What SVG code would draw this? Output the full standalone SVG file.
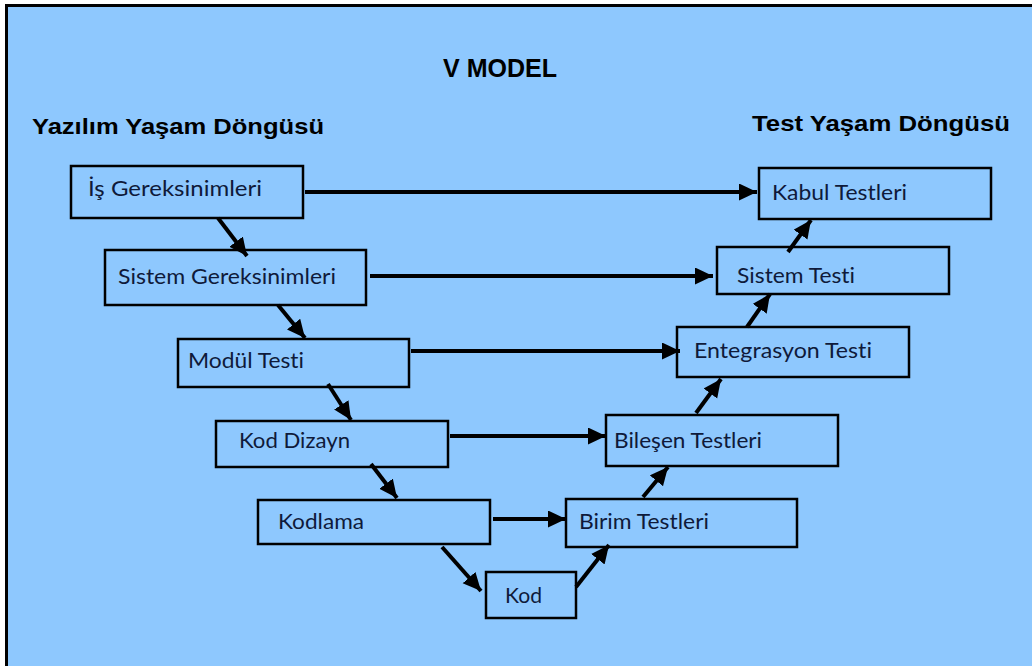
<svg xmlns="http://www.w3.org/2000/svg" width="1032" height="666" viewBox="0 0 1032 666">
<style>
.box{fill:#8EC8FE;stroke:#000;stroke-width:2.5}
.lbl{font-family:Lato,"Open Sans",sans-serif;font-size:22px;fill:#0F1A3A;font-variant-ligatures:none;font-feature-settings:"liga" 0}
.ttl{font-family:"Liberation Sans",Arial,sans-serif;font-weight:bold;fill:#000}
.con line{stroke:#000;stroke-width:4;marker-end:url(#ah)}
</style>
<defs>
<marker id="ah" markerUnits="userSpaceOnUse" markerWidth="20" markerHeight="18" refX="18" refY="8.5" orient="auto">
<path d="M0,0 L18,8.5 L0,17 z" fill="#000"/>
</marker>
</defs>
<rect x="0" y="0" width="1032" height="666" fill="#fff"/>
<rect x="6.5" y="5.5" width="1040" height="680" fill="#8EC8FE" stroke="#000" stroke-width="3"/>
<g id="titles">
<text class="ttl" x="443" y="77" font-size="26" textLength="114" lengthAdjust="spacingAndGlyphs">V MODEL</text>
<text class="ttl" x="32" y="134" font-size="22.5" textLength="292" lengthAdjust="spacingAndGlyphs">Yazılım Yaşam Döngüsü</text>
<text class="ttl" x="752" y="131" font-size="22.5" textLength="258" lengthAdjust="spacingAndGlyphs">Test Yaşam Döngüsü</text>
</g>
<g id="n1"><rect class="box" x="71" y="166" width="232" height="52"/><text class="lbl" x="88" y="196" textLength="174" lengthAdjust="spacingAndGlyphs">İş Gereksinimleri</text></g>
<g id="n2"><rect class="box" x="105" y="250" width="261" height="55"/><text class="lbl" x="118" y="284" textLength="218" lengthAdjust="spacingAndGlyphs">Sistem Gereksinimleri</text></g>
<g id="n3"><rect class="box" x="178" y="339" width="231" height="48"/><text class="lbl" x="188" y="368" textLength="116" lengthAdjust="spacingAndGlyphs">Modül Testi</text></g>
<g id="n4"><rect class="box" x="216" y="421" width="232" height="46"/><text class="lbl" x="239" y="448" textLength="111" lengthAdjust="spacingAndGlyphs">Kod Dizayn</text></g>
<g id="n5"><rect class="box" x="258" y="500" width="232" height="44"/><text class="lbl" x="278" y="529" textLength="86" lengthAdjust="spacingAndGlyphs">Kodlama</text></g>
<g id="n6"><rect class="box" x="486" y="572" width="90" height="46"/><text class="lbl" x="505" y="603" textLength="37" lengthAdjust="spacingAndGlyphs">Kod</text></g>
<g id="n7"><rect class="box" x="566" y="499" width="231" height="48"/><text class="lbl" x="579" y="529" textLength="130" lengthAdjust="spacingAndGlyphs">Birim Testleri</text></g>
<g id="n8"><rect class="box" x="606" y="415" width="232" height="51"/><text class="lbl" x="614" y="448" textLength="148" lengthAdjust="spacingAndGlyphs">Bileşen Testleri</text></g>
<g id="n9"><rect class="box" x="677" y="327" width="232" height="50"/><text class="lbl" x="694" y="358" textLength="178" lengthAdjust="spacingAndGlyphs">Entegrasyon Testi</text></g>
<g id="n10"><rect class="box" x="717" y="247" width="232" height="47"/><text class="lbl" x="737" y="283" textLength="118" lengthAdjust="spacingAndGlyphs">Sistem Testi</text></g>
<g id="n11"><rect class="box" x="759" y="168" width="232" height="51"/><text class="lbl" x="772" y="200" textLength="135" lengthAdjust="spacingAndGlyphs">Kabul Testleri</text></g>
<g id="connectors" class="con">
<line x1="305" y1="192" x2="757" y2="192"/>
<line x1="370" y1="276" x2="713" y2="276"/>
<line x1="411" y1="351" x2="680" y2="351"/>
<line x1="450" y1="436" x2="606" y2="436"/>
<line x1="493" y1="519" x2="566" y2="519"/>
<line x1="218" y1="218" x2="247" y2="256"/>
<line x1="278" y1="305" x2="305" y2="338"/>
<line x1="328" y1="384" x2="351" y2="420"/>
<line x1="371" y1="464" x2="397" y2="498"/>
<line x1="442" y1="547" x2="481" y2="591"/>
<line x1="576" y1="587" x2="609" y2="545"/>
<line x1="643" y1="497" x2="668" y2="467"/>
<line x1="696" y1="413" x2="721" y2="379"/>
<line x1="747" y1="327" x2="770" y2="294"/>
<line x1="788" y1="252" x2="811" y2="220"/>
</g>
</svg>
